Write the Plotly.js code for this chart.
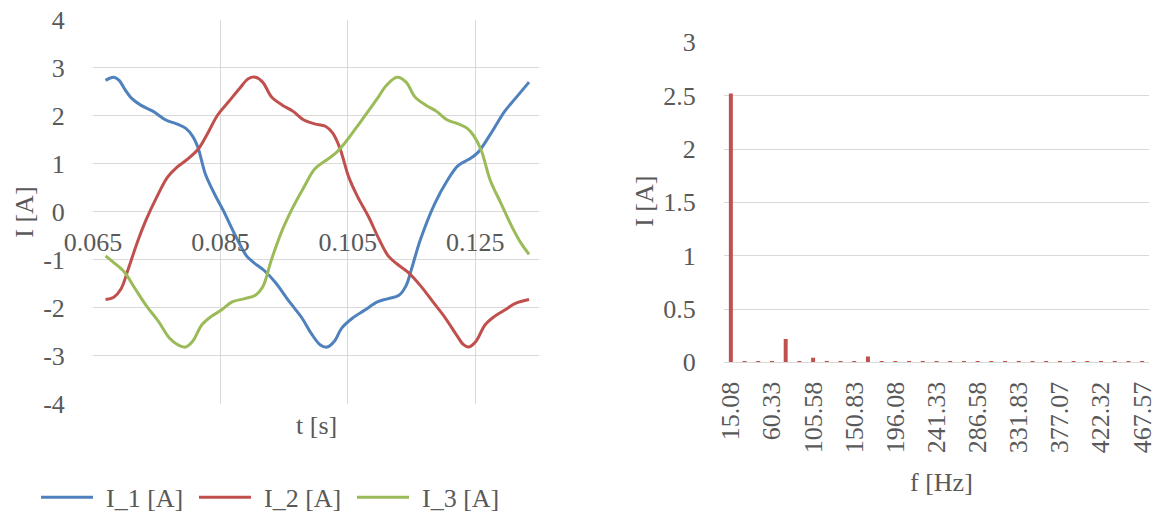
<!DOCTYPE html>
<html>
<head>
<meta charset="utf-8">
<script src="https://cdn.plot.ly/plotly-3.0.1.min.js"></script>
<style>html,body{margin:0;padding:0;background:#fff;}#chart{width:1156px;height:521px;}</style>
</head>
<body>
<div id="chart"></div>
<script>
// ---- Time-domain currents ----
const t1 = [0.06697,0.06826,0.06911,0.06995,0.07108,0.07249,0.07446,0.07643,0.07812,0.07952,0.08065,0.08149,0.08262,0.08403,0.08543,0.0874,0.08909,0.09022,0.09191,0.0936,0.09585,0.09782,0.09922,0.10063,0.10176,0.10288,0.10401,0.1057,0.10767,0.10964,0.11133,0.11302,0.11414,0.11498,0.11639,0.11864,0.12061,0.1223,0.12399,0.12539,0.12736,0.12961,0.1313,0.13344];
const i1 = [2.735,2.80,2.735,2.56,2.36,2.22,2.09,1.91,1.83,1.74,1.57,1.33,0.79,0.38,0.03,-0.51,-0.92,-1.06,-1.23,-1.47,-1.88,-2.22,-2.53,-2.77,-2.82,-2.70,-2.43,-2.22,-2.05,-1.88,-1.81,-1.74,-1.54,-1.20,-0.58,0.17,0.65,0.96,1.09,1.23,1.61,2.09,2.36,2.70];

const t2 = [0.06697,0.06826,0.06939,0.07052,0.07192,0.07333,0.07502,0.0767,0.07811,0.0798,0.08149,0.0829,0.08459,0.08628,0.08797,0.08937,0.0905,0.09163,0.09303,0.09472,0.09641,0.0981,0.09979,0.10148,0.1026,0.10373,0.10514,0.10654,0.10823,0.10992,0.11133,0.11273,0.11442,0.11639,0.11836,0.12033,0.12202,0.12315,0.12399,0.12512,0.12652,0.12793,0.12962,0.1313,0.13344];
const i2 = [-1.83,-1.78,-1.61,-1.20,-0.65,-0.17,0.31,0.72,0.92,1.09,1.30,1.61,2.02,2.29,2.56,2.77,2.80,2.70,2.39,2.22,2.09,1.91,1.83,1.78,1.64,1.33,0.72,0.31,-0.10,-0.58,-0.92,-1.09,-1.26,-1.54,-1.88,-2.22,-2.56,-2.77,-2.82,-2.70,-2.36,-2.19,-2.05,-1.91,-1.83];

const t3 = [0.06697,0.06826,0.06995,0.07164,0.07333,0.0753,0.07699,0.0784,0.07952,0.08065,0.08206,0.08346,0.08515,0.08684,0.08881,0.0905,0.09163,0.09303,0.09472,0.09641,0.0981,0.09979,0.10148,0.10317,0.10457,0.10626,0.10795,0.10964,0.11104,0.11273,0.11414,0.11554,0.11723,0.11892,0.12061,0.1223,0.1237,0.12483,0.12596,0.12736,0.12905,0.13074,0.13215,0.13344];
const i3 = [-0.92,-1.06,-1.26,-1.61,-1.95,-2.29,-2.63,-2.78,-2.82,-2.70,-2.36,-2.19,-2.05,-1.88,-1.81,-1.74,-1.57,-0.99,-0.38,0.10,0.51,0.89,1.06,1.23,1.44,1.74,2.05,2.36,2.63,2.80,2.70,2.39,2.22,2.09,1.91,1.83,1.74,1.57,1.27,0.65,0.17,-0.31,-0.65,-0.89];

const seriesNames = ["I_1 [A]", "I_2 [A]", "I_3 [A]"];
const tTicks = [0.065, 0.085, 0.105, 0.125];
const tTickLabels = ["0.065", "0.085", "0.105", "0.125"];
const iTicks = [-4, -3, -2, -1, 0, 1, 2, 3, 4];
const iTickLabels = ["-4", "-3", "-2", "-1", "0", "1", "2", "3", "4"];

// ---- Spectrum ----
const freqs = ["15.08","30.17","45.25","60.33","75.41","90.50","105.58","120.66","135.75","150.83","165.91","181.00","196.08","211.16","226.24","241.33","256.41","271.49","286.58","301.66","316.74","331.83","346.91","361.99","377.07","392.16","407.24","422.32","437.40","452.49","467.57"];
const amps = [2.52,0.012,0.012,0.012,0.22,0.012,0.042,0.012,0.012,0.012,0.056,0.012,0.012,0.012,0.012,0.012,0.012,0.012,0.012,0.012,0.012,0.012,0.012,0.012,0.012,0.012,0.012,0.012,0.012,0.012,0.012];
const freqTickLabels = ["15.08","60.33","105.58","150.83","196.08","241.33","286.58","331.83","377.07","422.32","467.57"];
const ampTicks = [0, 0.5, 1, 1.5, 2, 2.5, 3];
const ampTickLabels = ["0", "0.5", "1", "1.5", "2", "2.5", "3"];

const W = 1156, H = 521;
const FONT = "Liberation Serif, Times New Roman, serif";
const TXT = "#595959";
const GRID = "#D9D9D9";
const colors = ["#4F81BD", "#C0504D", "#9BBB59"];

const px = v => v / W;
const py = v => 1 - v / H;

const yDom = [py(410), py(20)];
const y2Dom = [py(368), py(43)];

const traces = [
  {x: t1, y: i1, name: seriesNames[0]},
  {x: t2, y: i2, name: seriesNames[1]},
  {x: t3, y: i3, name: seriesNames[2]}
].map((s, k) => ({
  type: "scatter", mode: "lines", x: s.x, y: s.y, name: s.name,
  line: {color: colors[k], width: 3, shape: "spline", smoothing: 1},
  xaxis: "x", yaxis: "y", hoverinfo: "skip"
}));

traces.push({
  type: "bar", x: freqs, y: amps, xaxis: "x2", yaxis: "y2",
  marker: {color: "#C0504D"}, showlegend: false, hoverinfo: "skip"
});

const layout = {
  width: W, height: H,
  margin: {l: 0, r: 0, t: 0, b: 0},
  paper_bgcolor: "#fff", plot_bgcolor: "#fff",
  font: {family: FONT, size: 26, color: TXT},
  showlegend: true,
  bargap: 0.71,
  legend: {
    orientation: "h", x: px(41), y: py(505), xanchor: "left", yanchor: "middle",
    itemwidth: 55, entrywidth: 88, entrywidthmode: "pixels",
    font: {family: FONT, size: 26, color: TXT}, bgcolor: "rgba(0,0,0,0)"
  },
  xaxis: {
    domain: [px(93), px(539)], range: [0.065, 0.135],
    tickmode: "array", tickvals: tTicks, ticktext: tTickLabels,
    showgrid: true, gridcolor: GRID, gridwidth: 1,
    zeroline: false, showline: false, ticks: "", ticklabelstandoff: 12,
    anchor: "free", position: (yDom[0] + yDom[1]) / 2, side: "bottom",
    tickfont: {family: FONT, size: 26, color: TXT},
    automargin: false, fixedrange: true
  },
  yaxis: {
    domain: yDom, range: [-4, 4],
    tickmode: "array", tickvals: iTicks, ticktext: iTickLabels,
    showgrid: true, gridcolor: GRID, gridwidth: 1,
    zeroline: false, showline: false, ticks: "outside", ticklen: 22, tickcolor: "rgba(0,0,0,0)",
    tickfont: {family: FONT, size: 26, color: TXT},
    anchor: "x", automargin: false, fixedrange: true
  },
  xaxis2: {
    domain: [px(724), px(1149)], type: "category",
    tickmode: "array", tickvals: freqTickLabels, ticktext: freqTickLabels,
    tickangle: -90, showgrid: false, zeroline: false,
    showline: true, linecolor: GRID, linewidth: 1, ticks: "", ticklabelstandoff: 8,
    tickfont: {family: FONT, size: 26, color: TXT},
    anchor: "y2", automargin: false, fixedrange: true
  },
  yaxis2: {
    domain: y2Dom, range: [0, 3],
    tickmode: "array", tickvals: ampTicks, ticktext: ampTickLabels,
    showgrid: true, gridcolor: GRID, gridwidth: 1,
    zeroline: false, showline: false, ticks: "outside", ticklen: 22, tickcolor: "rgba(0,0,0,0)",
    tickfont: {family: FONT, size: 26, color: TXT},
    anchor: "x2", automargin: false, fixedrange: true
  },
  annotations: [
    {text: "t [s]", xref: "paper", yref: "paper", x: px(316), y: py(432), xanchor: "center", yanchor: "middle", showarrow: false, font: {family: FONT, size: 26, color: TXT}},
    {text: "I [A]", xref: "paper", yref: "paper", x: px(25), y: py(215), xanchor: "center", yanchor: "middle", textangle: -90, showarrow: false, font: {family: FONT, size: 26, color: TXT}},
    {text: "f [Hz]", xref: "paper", yref: "paper", x: px(941), y: py(490), xanchor: "center", yanchor: "middle", showarrow: false, font: {family: FONT, size: 26, color: TXT}},
    {text: "I [A]", xref: "paper", yref: "paper", x: px(645), y: py(205), xanchor: "center", yanchor: "middle", textangle: -90, showarrow: false, font: {family: FONT, size: 26, color: TXT}}
  ]
};

Plotly.newPlot("chart", traces, layout, {staticPlot: true, displayModeBar: false}).then(function (gd) {
  // lengthen legend line samples to match the reference style
  document.querySelectorAll(".legend .legendlines path").forEach(function (p) {
    p.setAttribute("d", "M0,0h52");
  });
});
</script>
</body>
</html>
